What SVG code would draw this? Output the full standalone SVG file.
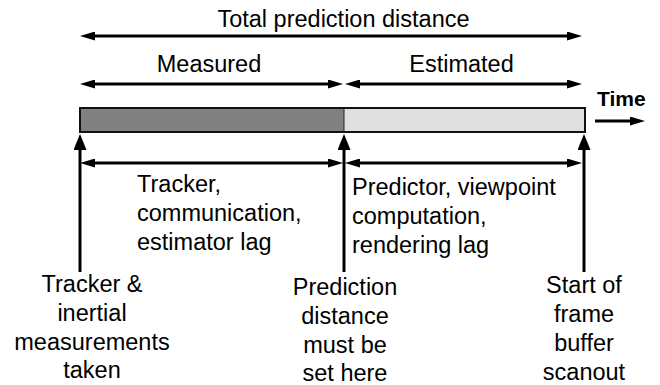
<svg xmlns="http://www.w3.org/2000/svg" width="660" height="385" viewBox="0 0 660 385">
<style>
text{font-family:"Liberation Sans",Arial,sans-serif;font-size:23.5px;fill:#000}
.c{text-anchor:middle}
.b{font-weight:bold;font-size:21px}
.ln{stroke:#000;stroke-width:3;fill:none}
.h{marker-start:url(#ah);marker-end:url(#ah)}
.e{marker-end:url(#ah)}
.v{marker-end:url(#av)}
</style>
<defs>
<marker id="ah" markerUnits="userSpaceOnUse" viewBox="0 0 15 9" markerWidth="15" markerHeight="9" refX="1" refY="4.5" orient="auto-start-reverse"><path d="M0,0 L15,4.5 L0,9 z" fill="#000"/></marker>
<marker id="av" markerUnits="userSpaceOnUse" viewBox="0 0 16 13" markerWidth="16" markerHeight="13" refX="1" refY="6.5" orient="auto"><path d="M0,0 L16,6.5 L0,13 z" fill="#000"/></marker>
</defs>
<rect width="660" height="385" fill="#fff"/>
<g id="timeline-bar">
<rect x="80" y="108" width="264" height="24" fill="#808080"/>
<rect x="344" y="108" width="241" height="24" fill="#e0e0e0"/>
<rect x="80" y="108" width="505" height="24" fill="none" stroke="#111" stroke-width="2"/>
<line x1="344" y1="108" x2="344" y2="132" stroke="#222" stroke-width="1"/>
</g>
<g id="connectors">
<line class="ln h" x1="94" y1="36" x2="568" y2="36"/>
<line class="ln h" x1="94" y1="84" x2="329" y2="84"/>
<line class="ln h" x1="359" y1="84" x2="568" y2="84"/>
<line class="ln h" x1="94" y1="163" x2="329" y2="163"/>
<line class="ln h" x1="359" y1="163" x2="568" y2="163"/>
<line class="ln e" x1="595" y1="121" x2="631" y2="121"/>
<line class="ln v" x1="80" y1="272" x2="80" y2="149"/>
<line class="ln v" x1="344" y1="272" x2="344" y2="149"/>
<line class="ln v" x1="584" y1="272" x2="584" y2="149"/>
</g>
<g id="label-total"><text class="c" x="343.5" y="27">Total prediction distance</text></g>
<g id="label-measured"><text class="c" x="209" y="72">Measured</text></g>
<g id="label-estimated"><text class="c" x="461.5" y="72">Estimated</text></g>
<g id="label-time"><text class="b" x="597" y="106">Time</text></g>
<g id="label-measured-lag">
<text x="137" y="192">Tracker,</text>
<text x="137" y="221">communication,</text>
<text x="137" y="250">estimator lag</text>
</g>
<g id="label-estimated-lag">
<text x="352" y="195">Predictor, viewpoint</text>
<text x="352" y="224">computation,</text>
<text x="352" y="253">rendering lag</text>
</g>
<g id="node-tracker">
<text class="c" x="92" y="292">Tracker &amp;</text>
<text class="c" x="92" y="321">inertial</text>
<text class="c" x="92" y="350">measurements</text>
<text class="c" x="92" y="378">taken</text>
</g>
<g id="node-prediction">
<text class="c" x="345" y="295">Prediction</text>
<text class="c" x="345" y="324">distance</text>
<text class="c" x="345" y="353">must be</text>
<text class="c" x="345" y="381">set here</text>
</g>
<g id="node-scanout">
<text class="c" x="584" y="293">Start of</text>
<text class="c" x="584" y="322">frame</text>
<text class="c" x="584" y="351">buffer</text>
<text class="c" x="584" y="380">scanout</text>
</g>
</svg>
